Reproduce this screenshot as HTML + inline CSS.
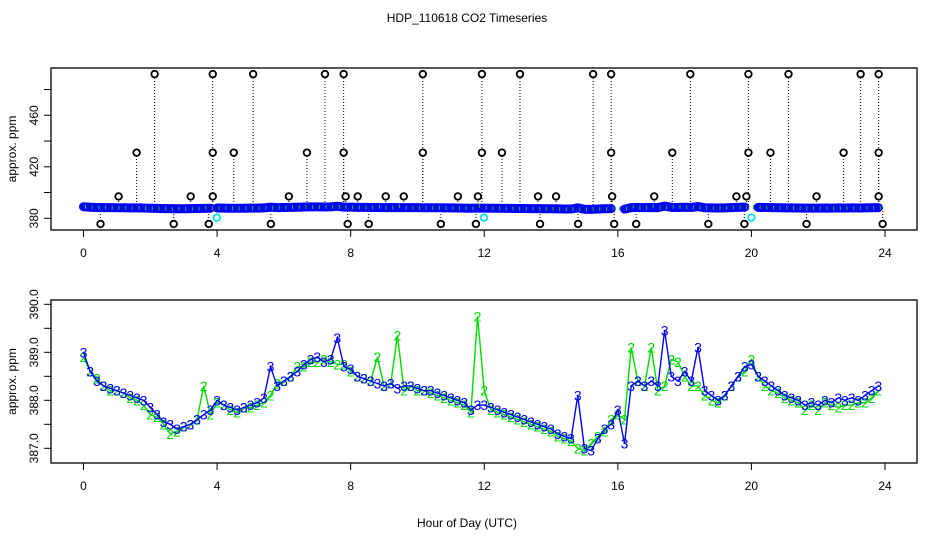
<!DOCTYPE html>
<html><head><meta charset="utf-8">
<style>
html,body{margin:0;padding:0;background:#fff;}
svg{display:block;font-family:"Liberation Sans",sans-serif;}
</style></head>
<body>
<svg id="chart" width="936" height="540" viewBox="0 0 936 540" xmlns="http://www.w3.org/2000/svg">
<text x="467" y="22" font-size="12" text-anchor="middle">HDP_110618  CO2 Timeseries</text>
<text x="467" y="527" font-size="12" text-anchor="middle">Hour of Day (UTC)</text>
<g id="top"></g>
<g id="bot"></g>
</svg>
<script>
var xTicks = [0,4,8,12,16,20,24];
var topYTicks = [380,400,420,440,460,480];
var topYLabels = ["380","","420","","460",""];
var botYTicks = [387,387.5,388,388.5,389,389.5,390];
var botYLabels = ["387.0","","388.0","","389.0","","390.0"];
var hours = [];
for (var i=0;i<120;i++) hours.push(i*0.2);
var blue = [389.0,388.6,388.4,388.3,388.25,388.2,388.15,388.1,388.05,388.0,
387.85,387.7,387.55,387.5,387.4,387.45,387.5,387.6,387.7,387.8,
388.0,387.9,387.85,387.8,387.85,387.9,387.95,388.05,388.7,388.3,
388.4,388.5,388.6,388.75,388.85,388.9,388.8,388.85,389.3,388.7,
388.65,388.5,388.45,388.4,388.35,388.3,388.35,388.25,388.3,388.3,
388.25,388.2,388.2,388.15,388.1,388.05,388.0,387.95,387.8,387.9,
387.9,387.85,387.8,387.75,387.7,387.65,387.6,387.55,387.5,387.45,
387.4,387.3,387.25,387.2,388.1,387.0,386.95,387.2,387.4,387.5,
387.8,387.1,388.3,388.4,388.3,388.4,388.3,389.45,388.5,388.4,
388.6,388.4,389.1,388.2,388.1,388.0,388.1,388.3,388.5,388.7,
388.75,388.5,388.4,388.3,388.2,388.1,388.05,388.0,387.9,387.95,
387.9,388.0,387.95,388.05,388.0,388.05,388.0,388.1,388.2,388.3];
var green = [388.9,388.6,388.45,388.3,388.2,388.2,388.15,388.05,388.0,387.9,
387.7,387.65,387.5,387.3,387.35,387.45,387.5,387.6,388.3,387.7,
387.95,387.9,387.8,387.75,387.85,387.85,387.9,387.95,388.1,388.35,
388.4,388.5,388.7,388.7,388.8,388.8,388.85,388.8,388.75,388.75,
388.6,388.5,388.45,388.4,388.9,388.3,388.35,389.35,388.2,388.3,
388.2,388.2,388.15,388.1,388.05,388.0,387.95,387.9,387.75,389.75,
388.2,387.8,387.75,387.7,387.65,387.6,387.55,387.5,387.45,387.4,
387.35,387.25,387.2,387.15,387.0,386.95,387.1,387.25,387.35,387.6,
387.7,387.6,389.1,388.4,388.3,389.1,388.2,388.3,388.85,388.8,
388.5,388.3,388.3,388.1,388.0,387.95,388.1,388.3,388.5,388.6,
388.85,388.5,388.3,388.2,388.15,388.05,388.0,387.95,387.8,387.9,
387.8,387.95,387.9,387.85,387.9,387.9,387.95,387.95,388.05,388.2];
var outHigh = [2.13,3.87,5.08,7.23,7.79,10.16,11.93,13.07,15.26,15.80,18.17,19.91,21.11,23.27,23.81];
var out430 = [1.59,3.87,4.50,6.69,7.79,10.16,11.93,12.53,15.80,17.63,19.91,20.57,22.76,23.81];
var out397 = [1.05,3.21,3.87,6.15,7.85,8.21,9.05,9.59,11.21,11.81,13.61,14.15,15.83,17.09,19.55,19.85,21.95,23.81];
var outLow = [0.51,2.70,3.75,5.61,7.91,8.54,10.70,11.75,13.67,14.81,15.89,16.55,18.71,19.79,21.65,23.93];
var cyanHours = [3.99,11.99,20.0];
var levelHigh = 492, level430 = 431, level397 = 397, levelLow = 375.6, levelCyan = 380.5;

var NS="http://www.w3.org/2000/svg";
function mk(tag, attrs, parent){var e=document.createElementNS(NS,tag);for(var k in attrs)e.setAttribute(k,attrs[k]);parent.appendChild(e);return e;}
function xs(h){return 83.5 + h*(885-83.5)/24;}
function yTop(v){return 218.3 - (v-380)*1.2875;}
function yBot(v){return 400.3 - (v-388)*48;}

function axes(g, top, bottom, yTicks, yLabels, yf, prefix){
  var r=mk('rect',{x:51,y:top,width:866,height:bottom-top,fill:'none',stroke:'#000','stroke-width':1.3},g);
  
  
  xTicks.forEach(function(t){
    var l=mk('line',{x1:xs(t),x2:xs(t),y1:bottom,y2:bottom+7,stroke:'#000'},g);
    
    
    var tx=mk('text',{x:xs(t),y:bottom+27,'font-size':12,'text-anchor':'middle'},g);
    
    
    tx.textContent=String(t);
  });
  yTicks.forEach(function(t,i){
    var y=yf(t);
    var l=mk('line',{x1:44,x2:51,y1:y,y2:y,stroke:'#000'},g);
    
    
    if(yLabels[i]){
      var tx=mk('text',{x:0,y:0,'font-size':12,'text-anchor':'middle',transform:'translate(38,'+y+') rotate(-90)'},g);
      
      
      tx.textContent=yLabels[i];
    }
  });
  var yt=mk('text',{x:0,y:0,'font-size':12,'text-anchor':'middle',transform:'translate(16,'+((top+bottom)/2)+') rotate(-90)'},g);
  
  
  yt.textContent='approx. ppm';
}

// TOP PANEL
var gt=document.getElementById('top');
// dotted spikes
function spikes(arr, level, cls){
  arr.forEach(function(h){
    var l=mk('line',{x1:xs(h),x2:xs(h),y1:yTop(388),y2:yTop(level),stroke:'#000','stroke-width':1,'stroke-dasharray':'1,2'},gt);
    
    
  });
}
spikes(outHigh,levelHigh,'high');spikes(out430,level430,'mid');spikes(out397,level397,'low');spikes(outLow,levelLow,'under');
// band
var segs=[[0,19],[20,79],[81,99],[101,119]];
segs.forEach(function(s){
  var pts=[];for(var i=s[0];i<=s[1];i++)pts.push(xs(hours[i])+','+yTop(blue[i]));
  var p=mk('polyline',{points:pts.join(' '),fill:'none',stroke:'#0000ff','stroke-width':9,'stroke-linecap':'round'},gt);
  
  
});
for(var i=0;i<120;i++){
  var c=mk('line',{x1:xs(hours[i])+2,x2:xs(hours[i])+2,y1:yTop(green[i])-2,y2:yTop(green[i])+2,stroke:'#00cc00','stroke-width':1},gt);
  
  
}
function circles(arr, level, col, name){
  arr.forEach(function(h){
    var c=mk('circle',{cx:xs(h),cy:yTop(level),r:3.3,fill:'#fff',stroke:col,'stroke-width':1.8},gt);
    
    
  });
}
circles(outHigh,levelHigh,'#000','outlier-point');circles(out430,level430,'#000','outlier-point');
circles(out397,level397,'#000','outlier-point');circles(outLow,levelLow,'#000','outlier-point');
circles(cyanHours,levelCyan,'#00e5ee','cyan-point');
axes(gt,68,230,topYTicks,topYLabels,yTop,'top');

// BOTTOM PANEL
var gb=document.getElementById('bot');
function series(vals,col,ch,name){
  var pts=[];for(var i=0;i<vals.length;i++)pts.push(xs(hours[i])+','+yBot(vals[i]));
  var p=mk('polyline',{points:pts.join(' '),fill:'none',stroke:col,'stroke-width':1.4},gb);
  
  
  for(var i=0;i<vals.length;i++){
    var t=mk('text',{x:xs(hours[i]),y:yBot(vals[i])+5,'font-size':14,'text-anchor':'middle',fill:col},gb);
    
    
    t.textContent=ch;
  }
}
series(green,'#00dd00','2','sensor-2');
series(blue,'#0000ff','3','sensor-3');
axes(gb,300,463,botYTicks,botYLabels,yBot,'bottom');
</script>
</body></html>
